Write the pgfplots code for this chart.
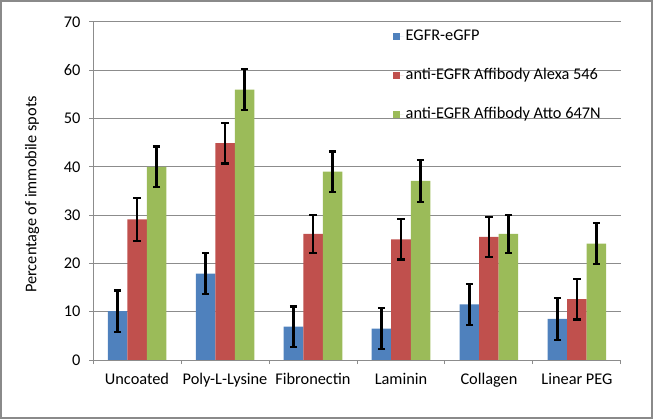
\documentclass[border=0pt]{standalone}
\usepackage{pgfplots}
\pgfplotsset{compat=1.18}
\usepackage{fontspec}
\setmainfont{Carlito}
\definecolor{cblue}{HTML}{4F81BD}
\definecolor{cred}{HTML}{C0504D}
\definecolor{cgreen}{HTML}{9BBB59}
\definecolor{gridgray}{HTML}{8C8C8C}
\definecolor{framegray}{HTML}{8A8A8A}
\begin{document}
\begin{tikzpicture}[font=\fontsize{16.4}{19.5}\selectfont]
\path[use as bounding box] (0,0) rectangle (653bp,419bp);
\draw[color=framegray, line width=2bp] (1bp,1bp) rectangle (652bp,418bp);
\begin{axis}[
  at={(93bp,59bp)}, anchor=south west,
  scale only axis, width=528bp, height=338bp,
  xmin=0, xmax=6, ymin=0, ymax=70,
  ytick={0,10,...,70},
  xtick={0,...,6},
  x tick label as interval,
  xticklabels={Uncoated,Poly-L-Lysine,Fibronectin,Laminin,Collagen,Linear PEG},
  xticklabel style={text height=11bp, text depth=3bp, yshift=-6bp},
  yticklabel style={xshift=-5bp},
  axis lines*=left,
  axis line style={gridgray, line width=1bp},
  ymajorgrids, major grid style={gridgray, line width=1bp},
  tick align=outside, major tick length=4bp,
  tick style={gridgray, line width=1bp},
  /pgf/number format/assume math mode=true,
  ylabel={Percentage of immobile spots},
  ylabel style={at={(axis description cs:-0.1155,0.49)}, anchor=center},
  ybar=0pt, bar width=19.5bp,
  legend image code/.code={\fill[#1] (0bp,-3bp) rectangle (6.5bp,3.5bp); \path (0bp,0bp) -- (10.5bp,0bp);},
  legend style={at={(axis description cs:0.5625,0.99)}, anchor=north west, draw=none, fill=none,
    nodes={anchor=west, text height=11bp, text depth=3bp, inner ysep=2bp, inner xsep=2bp},
    row sep=21bp},
  legend cell align=left,
  error bars/y dir=both, error bars/y explicit,
  error bars/error bar style={black, line width=2.4bp},
  error bars/error mark options={black, rotate=90, mark size=3.6bp, line width=2.2bp},
]
\addplot[fill=cblue, draw=none] coordinates {
  (0.5,10.1) +- (0,4.3)
  (1.5,17.9) +- (0,4.3)
  (2.5,6.9) +- (0,4.2)
  (3.5,6.5) +- (0,4.2)
  (4.5,11.5) +- (0,4.3)
  (5.5,8.5) +- (0,4.3)
};
\addplot[fill=cred, draw=none] coordinates {
  (0.5,29.1) +- (0,4.4)
  (1.5,44.9) +- (0,4.2)
  (2.5,26.1) +- (0,4.0)
  (3.5,25.0) +- (0,4.2)
  (4.5,25.5) +- (0,4.1)
  (5.5,12.6) +- (0,4.2)
};
\addplot[fill=cgreen, draw=none] coordinates {
  (0.5,40.0) +- (0,4.2)
  (1.5,56.0) +- (0,4.2)
  (2.5,39.0) +- (0,4.2)
  (3.5,37.1) +- (0,4.3)
  (4.5,26.1) +- (0,4.0)
  (5.5,24.1) +- (0,4.3)
};
\legend{EGFR-eGFP, anti-EGFR Affibody Alexa 546, anti-EGFR Affibody Atto 647N}
\end{axis}
\end{tikzpicture}
\end{document}
